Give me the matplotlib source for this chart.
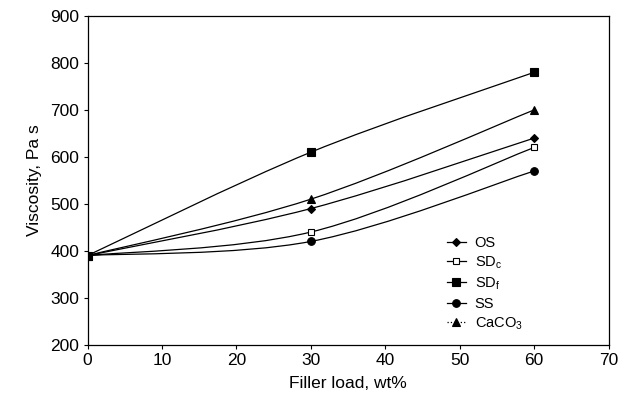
import numpy as np
import matplotlib.pyplot as plt
from matplotlib.path import Path
from matplotlib.patches import PathPatch
from matplotlib.lines import Line2D

plt.rcParams["font.family"] = ["Liberation Sans", "DejaVu Sans"]
plt.rcParams["mathtext.fontset"] = "custom"
plt.rcParams["mathtext.rm"] = "Liberation Sans"

# Viscosity vs filler load
filler_load = [0, 30, 60]
os_vals = [390, 490, 640]
sdc_vals = [390, 440, 620]
sdf_vals = [390, 610, 780]
ss_vals = [390, 420, 570]
caco3_vals = [390, 510, 700]

series = [
    ("OS", os_vals, dict(marker="D", markersize=4, mfc="black")),
    ("SD$_\\mathrm{c}$", sdc_vals, dict(marker="s", markersize=5, mfc="white")),
    ("SD$_\\mathrm{f}$", sdf_vals, dict(marker="s", markersize=5.5, mfc="black")),
    ("SS", ss_vals, dict(marker="o", markersize=5.5, mfc="black")),
    ("CaCO$_\\mathrm{3}$", caco3_vals, dict(marker="^", markersize=5.5, mfc="black")),
]


def smooth_path(x, y, k=1 / 6):
    """Catmull-Rom style cubic Bezier path through the data points."""
    pts = np.column_stack([x, y]).astype(float)
    verts = [pts[0]]
    codes = [Path.MOVETO]
    n = len(pts)
    for i in range(n - 1):
        p0 = pts[max(i - 1, 0)]
        p1 = pts[i]
        p2 = pts[i + 1]
        p3 = pts[min(i + 2, n - 1)]
        c1 = p1 + (p2 - p0) * k
        c2 = p2 - (p3 - p1) * k
        verts += [c1, c2, p2]
        codes += [Path.CURVE4] * 3
    return Path(verts, codes)


fig = plt.figure(figsize=(6.21, 4.09), dpi=100)
ax = fig.add_axes([0.141, 0.157, 0.839, 0.804])

handles = []
for label, vals, style in series:
    ax.add_patch(PathPatch(smooth_path(filler_load, vals), fill=False,
                           edgecolor="black", linewidth=0.9))
    ax.plot(filler_load, vals, linestyle="none", color="black",
            markeredgecolor="black", markeredgewidth=0.8, **style)
    ls = ":" if label.startswith("CaCO") else "-"
    handles.append(Line2D([], [], color="black", linewidth=0.9, linestyle=ls,
                          markeredgecolor="black", markeredgewidth=0.8,
                          label=label, **style))

ax.set_xlim(0, 70)
ax.set_ylim(200, 900)
ax.set_xticks(range(0, 71, 10))
ax.set_yticks(range(200, 901, 100))
ax.tick_params(direction="out", length=3, width=0.8, labelsize=12.5, pad=3)
for sp in ax.spines.values():
    sp.set_linewidth(0.9)

ax.set_xlabel("Filler load, wt%", fontsize=12.5, labelpad=6)
ax.set_ylabel("Viscosity, Pa s", fontsize=12.5, labelpad=6)

ax.legend(handles=handles, loc="center left", bbox_to_anchor=(0.67, 0.185),
          frameon=False, fontsize=10.5, handlelength=1.3, handletextpad=0.6,
          labelspacing=0.3, borderpad=0.2)

plt.savefig("out.png", dpi=100)
plt.close(fig)
